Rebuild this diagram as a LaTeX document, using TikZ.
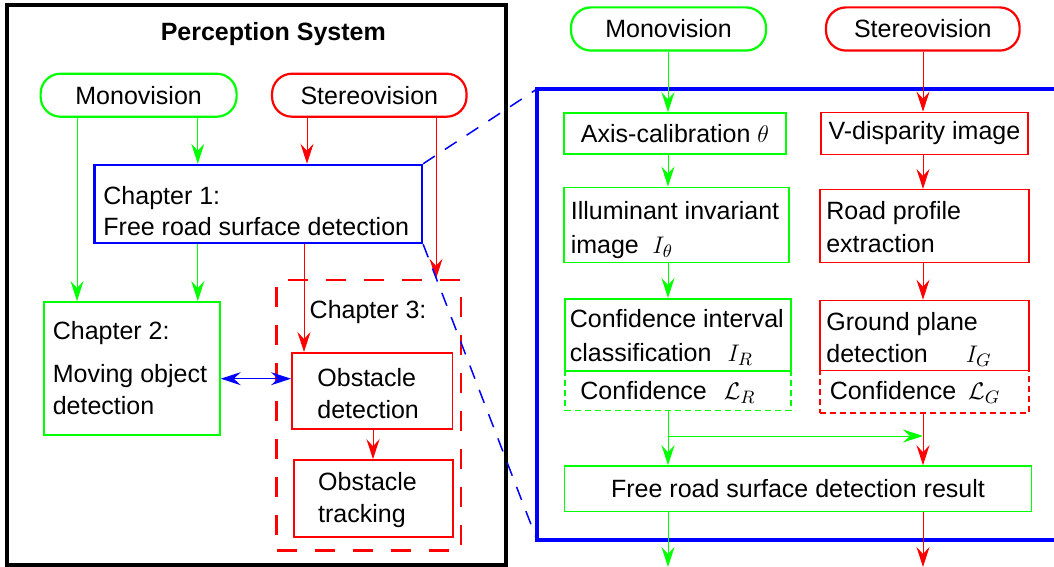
\documentclass[tikz,border=0pt]{standalone}
\usepackage{fontspec}
\setmainfont{Liberation Sans}
\usetikzlibrary{arrows.meta}
\definecolor{gr}{RGB}{0,255,0}
\definecolor{rd}{RGB}{255,0,0}
\definecolor{bl}{RGB}{0,0,255}
\begin{document}
\begin{tikzpicture}[x=0.5pt,y=-0.5pt,
  font=\fontsize{12.5}{16}\selectfont,
  >={Stealth[length=10pt,width=6.5pt,inset=3.5pt]},
  gbox/.style={draw=gr, line width=0.75pt, inner sep=0pt},
  rbox/.style={draw=rd, line width=0.75pt, inner sep=0pt},
  term/.style={rounded corners=10pt, line width=1.1pt, inner sep=0pt},
  txt/.style={inner sep=0pt, align=left, anchor=north west},
  garr/.style={draw=gr, line width=0.5pt, ->},
  rarr/.style={draw=rd, line width=0.5pt, ->},
  zoomline/.style={draw=bl, line width=0.75pt, dash pattern=on 7pt off 6pt},
  conf/.style={line width=0.75pt, dash pattern=on 3pt off 2pt, inner sep=0pt}
]
\useasboundingbox (0,0) rectangle (1054,567);

% ---------------- left: perception system ----------------
\node[draw=black, line width=1.75pt, minimum width=249.6pt, minimum height=280pt, inner sep=0pt] (outer) at (256.4,285) {};
\node[font=\fontsize{12.5}{16}\selectfont\bfseries, inner sep=0pt] (title) at (273.3,34) {Perception System};

\node[term, draw=gr, minimum width=98pt, minimum height=21.5pt] (monoL) at (138.6,95.2) {Monovision};
\node[term, draw=rd, minimum width=97.25pt, minimum height=21.5pt] (stereoL) at (369.3,95.2) {Stereovision};

\node[draw=bl, line width=1.25pt, minimum width=163.6pt, minimum height=39pt, inner sep=0pt] (ch1) at (258.3,204) {};
\node[txt, font=\fontsize{12.5}{15.5}\selectfont] (ch1t) at (103,186) {Chapter 1:\\Free road surface detection};

\node[draw=gr, line width=1pt, minimum width=87.85pt, minimum height=66.25pt, inner sep=0pt] (ch2) at (131.9,368.3) {};
\node[txt] (ch2t) at (52.4,321) {Chapter 2:\\[5.5pt]Moving object\\detection};

\node[draw=rd, line width=1.25pt, dash pattern=on 10pt off 9pt, minimum width=92.15pt, minimum height=135.25pt, inner sep=0pt] (ch3) at (368.7,415.3) {};
\node[txt] (ch3t) at (309.3,300) {Chapter 3:};

\node[rbox, minimum width=80.25pt, minimum height=38.15pt] (obsdet) at (372,390.9) {};
\node[txt] (obsdett) at (317,368.4) {Obstacle\\detection};
\node[rbox, minimum width=79.5pt, minimum height=38.55pt] (obstrk) at (373.5,498.5) {};
\node[txt] (obstrkt) at (317.8,472) {Obstacle\\tracking};

\coordinate (xa) at (77,0);
\coordinate (xb) at (197.8,0);
\coordinate (xc) at (307,0);
\coordinate (xd) at (304,0);
\coordinate (xe) at (436,0);
\coordinate (xf) at (373,0);
\coordinate (ya) at (0,378.7);

\draw[garr] (monoL.south -| xa) -- (ch2.north -| xa);
\draw[garr] (monoL.south -| xb) -- (ch1.north -| xb);
\draw[garr] (ch1.south -| xb) -- (ch2.north -| xb);
\draw[rarr] (stereoL.south -| xc) -- (ch1.north -| xc);
\draw[rarr] (stereoL.south -| xe) -- (ch3.north -| xe);
\draw[rarr] (ch1.south -| xd) -- (obsdet.north -| xd);
\draw[rarr] (obsdet.south -| xf) -- (obstrk.north -| xf);
\draw[draw=bl, line width=0.5pt, <->] (ch2.east |- ya) -- (obsdet.west |- ya);

% ---------------- zoom lines and big box ----------------
\coordinate (bbtl) at (537,89);
\coordinate (bbbl) at (537,540);
\coordinate (bbtr) at (1058,89);
\coordinate (bbbr) at (1058,540);
\draw[zoomline] (ch1.north east) -- (bbtl);
\draw[zoomline] (ch1.south east) -- (bbbl);
\draw[draw=bl, line width=1.75pt] (bbtr) -- (bbtl) -- (bbbl) -- (bbbr);

% ---------------- right: chapter 1 detail ----------------
\node[term, draw=gr, minimum width=97.5pt, minimum height=21.6pt] (monoR) at (668.5,29) {Monovision};
\node[term, draw=rd, minimum width=96.8pt, minimum height=21.6pt] (stereoR) at (922.8,29) {Stereovision};

\node[gbox, minimum width=111pt, minimum height=20.5pt] (axis) at (675,133.5) {Axis-calibration $\theta$};
\node[rbox, minimum width=103.65pt, minimum height=21pt] (vdisp) at (924.4,133.4) {V-disparity image};

\node[gbox, minimum width=112.35pt, minimum height=37.5pt] (illum) at (676.4,224.8) {};
\node[txt, font=\fontsize{12.5}{17}\selectfont] (illumt) at (570.4,200.5) {Illuminant invariant\\image\hspace{6.8pt}$I_\theta$};
\node[rbox, minimum width=104.5pt, minimum height=36.3pt] (roadp) at (924.5,226) {};
\node[txt, font=\fontsize{12.5}{16.5}\selectfont] (roadpt) at (825.9,200.5) {Road profile\\extraction};

\node[gbox, minimum width=112.9pt, minimum height=36.15pt] (confi) at (677.9,334.9) {};
\node[txt, font=\fontsize{12.5}{17}\selectfont] (confit) at (569.4,308.5) {Confidence interval\\classification\hspace{8pt}$I_R$};
\node[rbox, minimum width=104.65pt, minimum height=34.95pt] (ground) at (924.4,335.4) {};
\node[txt] (groundt) at (826,312) {Ground plane\\detection\hspace{19pt}$I_G$};

\node[conf, draw=gr, minimum width=112.9pt, minimum height=19.7pt] (confLR) at (677.9,390.7) {};
\node[inner sep=0pt] (confLRt) at (668,392.4) {Confidence\hspace{8.5pt}$\mathcal{L}_R$};
\node[conf, draw=rd, minimum width=104.65pt, minimum height=21.25pt] (confLG) at (924.4,391.6) {};
\node[inner sep=0pt] (confLGt) at (915,392) {Confidence\hspace{6pt}$\mathcal{L}_G$};

\node[gbox, minimum width=233.65pt, minimum height=22.8pt] (result) at (798,488.8) {Free road surface detection result};

\coordinate (xg) at (668,0);
\coordinate (xr) at (923,0);
\coordinate (br) at (668,436);
\coordinate (outg) at (668,567);
\coordinate (outr) at (923,567);

\draw[garr] (monoR.south -| xg) -- (axis.north -| xg);
\draw[garr] (axis.south -| xg) -- (illum.north -| xg);
\draw[garr] (illum.south -| xg) -- (confi.north -| xg);
\draw[garr] (confLR.south -| xg) -- (result.north -| xg);
\draw[garr] (br) -- (br -| xr);
\draw[garr] (result.south -| xg) -- (outg);

\draw[rarr] (stereoR.south -| xr) -- (vdisp.north -| xr);
\draw[rarr] (vdisp.south -| xr) -- (roadp.north -| xr);
\draw[rarr] (roadp.south -| xr) -- (ground.north -| xr);
\draw[rarr] (confLG.south -| xr) -- (result.north -| xr);
\draw[rarr] (result.south -| xr) -- (outr);
\end{tikzpicture}
\end{document}
